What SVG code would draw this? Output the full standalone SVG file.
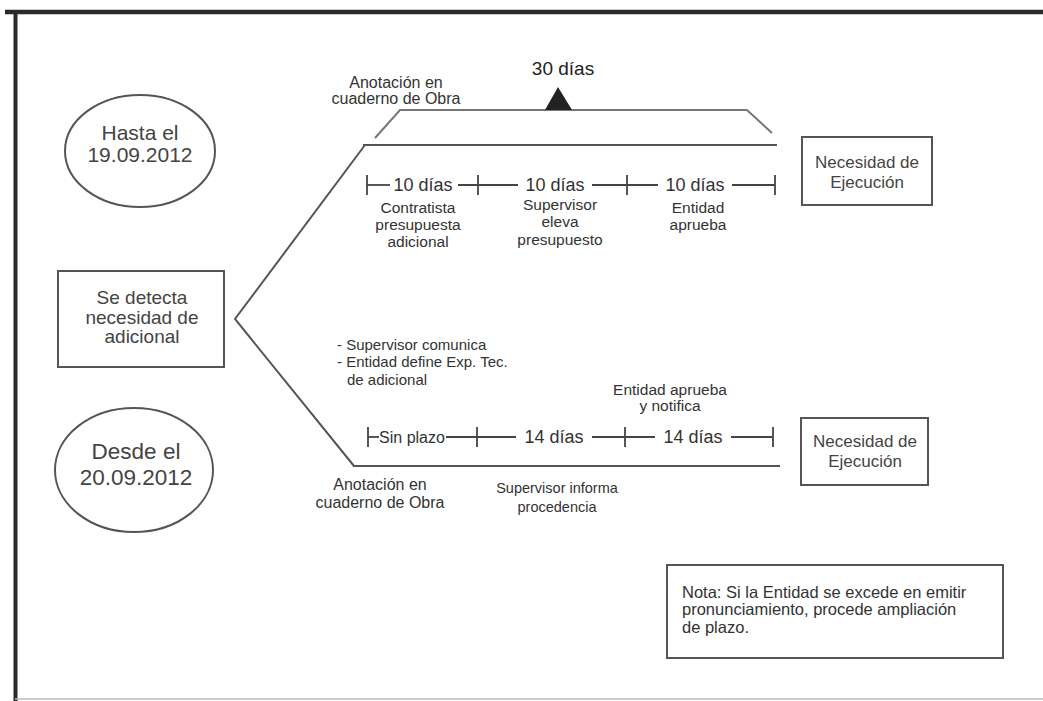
<svg xmlns="http://www.w3.org/2000/svg" width="1043" height="701" viewBox="0 0 1043 701">
<style>
text{font-family:"Liberation Sans",Arial,sans-serif;fill:#333;}
.big{font-size:21px;fill:#444;text-anchor:middle;}
.mid{font-size:19px;fill:#444;text-anchor:middle;}
.box{font-size:17px;fill:#444;text-anchor:middle;}
.lbl{font-size:15.5px;text-anchor:middle;}
.lblL{font-size:15px;}
.tl{font-size:18px;text-anchor:middle;}
.node{fill:#fff;stroke:#555;stroke-width:2;}
.ln{fill:none;stroke:#555;stroke-width:2;}
.lt{fill:none;stroke:#777;stroke-width:2;}
.tk{fill:none;stroke:#444;stroke-width:1.8;}
</style>
<rect x="0" y="0" width="1043" height="701" fill="#fff"/>
<g id="frame">
<line x1="5" y1="12" x2="1043" y2="12" stroke="#2a2a2a" stroke-width="4.5"/>
<line x1="15.5" y1="10" x2="15.5" y2="701" stroke="#2a2a2a" stroke-width="4"/>
<line x1="15" y1="699" x2="1043" y2="699" stroke="#bbb" stroke-width="1.5"/>
</g>
<g id="connectors">
<polyline class="ln" points="365,145 235,319 354,466"/>
<line class="ln" x1="363" y1="145" x2="777" y2="145"/>
<line class="ln" x1="353" y1="466" x2="780" y2="466"/>
<polyline class="lt" points="375,138 400,110 747,110 772,133"/>
<polygon points="545,110 572,110 558,87" fill="#222"/>
<g class="tk">
<line x1="367" y1="175" x2="367" y2="195"/>
<line x1="478" y1="175" x2="478" y2="195"/>
<line x1="627" y1="175" x2="627" y2="195"/>
<line x1="775" y1="175" x2="775" y2="195"/>
<line x1="367" y1="185" x2="390" y2="185"/>
<line x1="458" y1="185" x2="518" y2="185"/>
<line x1="592" y1="185" x2="658" y2="185"/>
<line x1="732" y1="185" x2="775" y2="185"/>
</g>
<g class="tk">
<line x1="368" y1="427" x2="368" y2="447"/>
<line x1="477" y1="427" x2="477" y2="447"/>
<line x1="625" y1="427" x2="625" y2="447"/>
<line x1="773" y1="427" x2="773" y2="447"/>
<line x1="368" y1="437" x2="379" y2="437"/>
<line x1="446" y1="437" x2="516" y2="437"/>
<line x1="592" y1="437" x2="655" y2="437"/>
<line x1="731" y1="437" x2="773" y2="437"/>
</g>
</g>
<g id="hasta">
<ellipse class="node" cx="140" cy="151" rx="75" ry="56"/>
<text class="big" x="140" y="140">Hasta el</text>
<text class="big" x="140" y="162">19.09.2012</text>
</g>
<g id="desde">
<ellipse class="node" cx="134" cy="470" rx="79" ry="62"/>
<text class="big" x="136" y="459" style="font-size:22.5px">Desde el</text>
<text class="big" x="136" y="485" style="font-size:22.5px">20.09.2012</text>
</g>
<g id="detecta">
<rect class="node" x="58" y="271" width="166" height="96"/>
<text class="mid" x="142" y="304">Se detecta</text>
<text class="mid" x="142" y="324">necesidad de</text>
<text class="mid" x="142" y="343">adicional</text>
</g>
<g id="ejec1">
<rect class="node" x="802" y="137" width="130" height="68"/>
<text class="box" x="867" y="168">Necesidad de</text>
<text class="box" x="867" y="188">Ejecución</text>
</g>
<g id="ejec2">
<rect class="node" x="801" y="418" width="127" height="67"/>
<text class="box" x="865" y="447">Necesidad de</text>
<text class="box" x="865" y="467">Ejecución</text>
</g>
<g id="nota">
<rect class="node" x="667" y="565" width="336" height="93"/>
<text class="lblL" x="682" y="598" style="font-size:16.5px">Nota: Si la Entidad se excede en emitir</text>
<text class="lblL" x="682" y="615" style="font-size:16.5px">pronunciamiento, procede ampliación</text>
<text class="lblL" x="682" y="633" style="font-size:16.5px">de plazo.</text>
</g>
<g id="labels">
<text class="tl" x="563" y="75" style="font-size:19px;fill:#222">30 días</text>
<text class="lbl" x="396" y="88" style="font-size:16px">Anotación en</text>
<text class="lbl" x="396" y="104" style="font-size:16px">cuaderno de Obra</text>
<text class="tl" x="423" y="191">10 días</text>
<text class="tl" x="555" y="191">10 días</text>
<text class="tl" x="695" y="191">10 días</text>
<text class="lbl" x="418" y="213">Contratista</text>
<text class="lbl" x="418" y="230">presupuesta</text>
<text class="lbl" x="418" y="247">adicional</text>
<text class="lbl" x="560" y="210">Supervisor</text>
<text class="lbl" x="560" y="227">eleva</text>
<text class="lbl" x="560" y="245">presupuesto</text>
<text class="lbl" x="698" y="213">Entidad</text>
<text class="lbl" x="698" y="230">aprueba</text>
<text class="lblL" x="337" y="350">- Supervisor comunica</text>
<text class="lblL" x="337" y="367">- Entidad define Exp. Tec.</text>
<text class="lblL" x="347" y="385">de adicional</text>
<text class="lbl" x="670" y="395">Entidad aprueba</text>
<text class="lbl" x="670" y="411">y notifica</text>
<text class="tl" x="412" y="443" style="font-size:16px">Sin plazo</text>
<text class="tl" x="554" y="443">14 días</text>
<text class="tl" x="693" y="443">14 días</text>
<text class="lbl" x="380" y="490" style="font-size:16px">Anotación en</text>
<text class="lbl" x="380" y="508" style="font-size:16px">cuaderno de Obra</text>
<text class="lbl" x="557" y="493" style="font-size:14.5px">Supervisor informa</text>
<text class="lbl" x="557" y="512" style="font-size:14.5px">procedencia</text>
</g>
</svg>
